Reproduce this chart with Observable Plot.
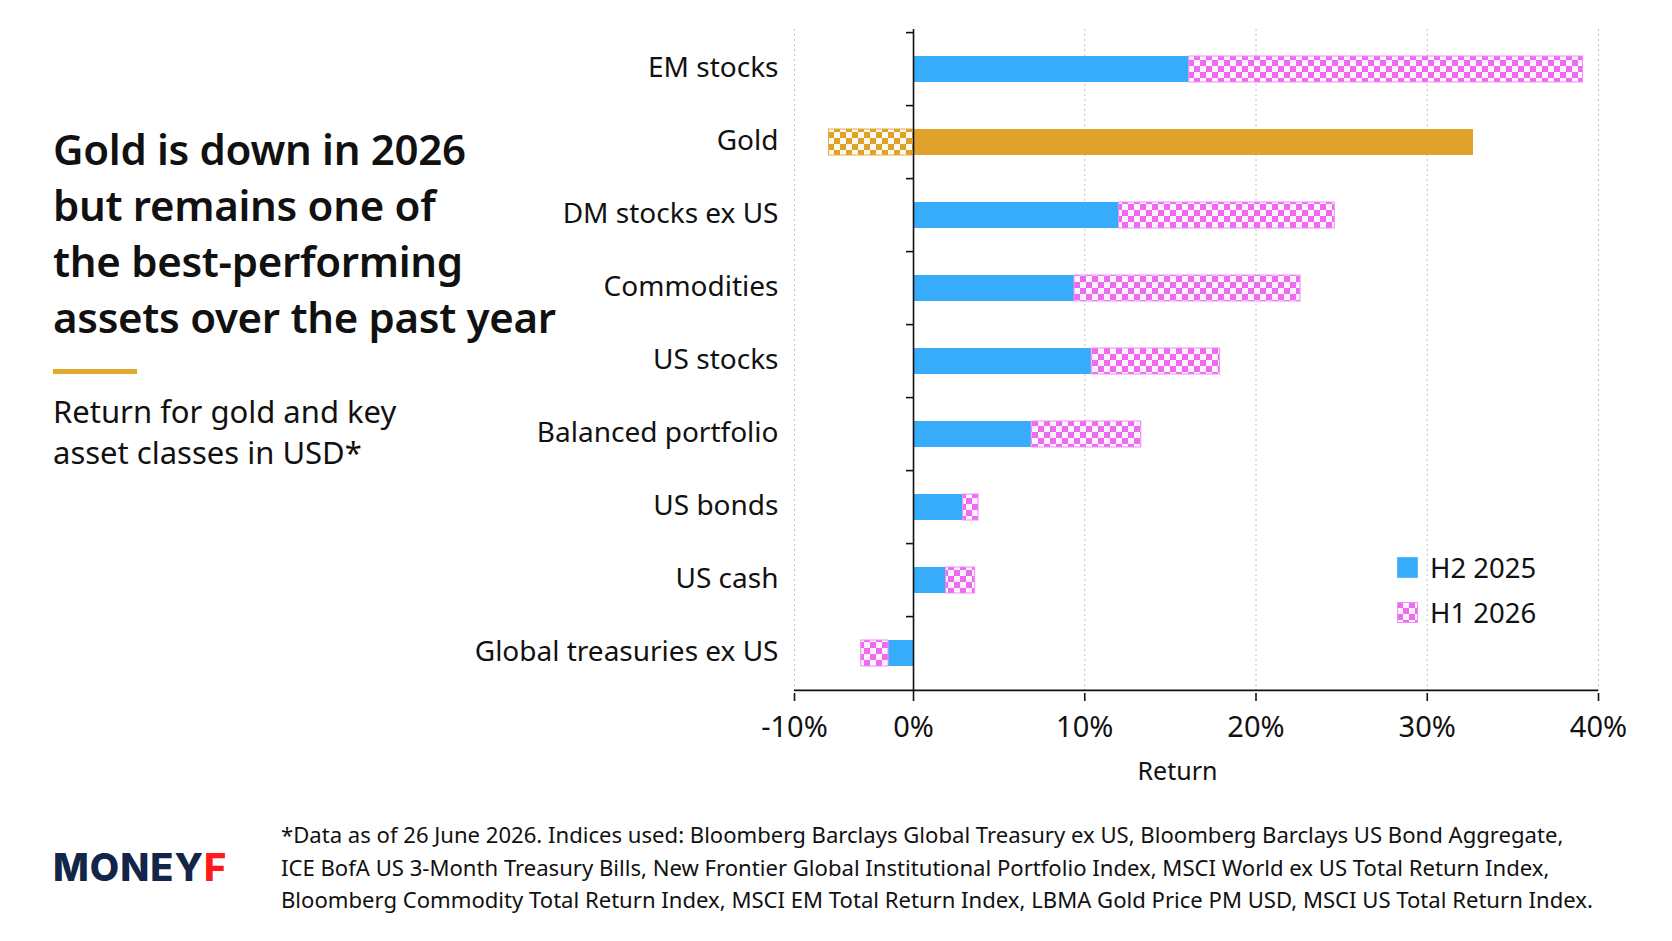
<!DOCTYPE html>
<html>
<head>
<meta charset="utf-8">
<script src="https://cdn.jsdelivr.net/npm/d3@7"></script>
<script src="https://cdn.jsdelivr.net/npm/@observablehq/plot@0.6"></script>
<style>
  html, body { margin: 0; padding: 0; background: #fff; }
  #page { position: relative; width: 1672px; height: 941px; overflow: hidden; background: #fff; font-family: "Noto Sans", "Open Sans", sans-serif; color: #111; }
  #chart { position: absolute; left: 0; top: 0; }
  #title { position: absolute; left: 53px; top: 121px; font-size: 42px; font-weight: 600; line-height: 56px; letter-spacing: -0.3px; color: #111; }
  #rule { position: absolute; left: 53px; top: 369px; width: 84px; height: 5px; background: #e3a92e; }
  #subtitle { position: absolute; left: 53px; top: 391px; font-size: 31px; line-height: 41px; color: #111; }
  #logo { position: absolute; left: 53px; top: 846px; font-family: Inter, "Noto Sans", sans-serif; font-weight: 800; font-size: 38px; line-height: 42px; color: #13264a; letter-spacing: 1px; }
  #logo span { color: #ff1a1a; }
  #foot { position: absolute; left: 281px; top: 818px; font-size: 22.1px; line-height: 32.5px; color: #111; white-space: nowrap; }
  .leg { position: absolute; left: 1397px; height: 30px; display: flex; align-items: center; font-size: 27.5px; color: #111; }
  .leg svg { margin-right: 12px; }
</style>
</head>
<body>
<div id="page">
  <svg width="0" height="0" style="position:absolute">
    <defs>
      <pattern id="checkPink" patternUnits="userSpaceOnUse" width="12" height="12">
        <rect width="12" height="12" fill="#fdf3fe"></rect>
        <rect x="0" y="0" width="6" height="6" fill="#ec6bf0"></rect>
        <rect x="6" y="6" width="6" height="6" fill="#ec6bf0"></rect>
      </pattern>
      <pattern id="checkGold" patternUnits="userSpaceOnUse" width="12" height="12">
        <rect width="12" height="12" fill="#fffaf0"></rect>
        <rect x="0" y="0" width="6" height="6" fill="#e0a22a"></rect>
        <rect x="6" y="6" width="6" height="6" fill="#e0a22a"></rect>
      </pattern>
    </defs>
  </svg>
  <div id="chart"></div>
  <div id="title">Gold is down in 2026<br>but remains one of<br>the best-performing<br>assets over the past year</div>
  <div id="rule"></div>
  <div id="subtitle">Return for gold and key<br>asset classes in USD*</div>
  <div class="leg" style="top:552px"><svg width="21" height="21"><rect x="0.5" y="0.5" width="20" height="20" fill="#36acfb" stroke="#5bbcfc"></rect></svg>H2 2025</div>
  <div class="leg" style="top:597px"><svg width="21" height="21"><rect x="0.5" y="0.5" width="20" height="20" fill="url(#checkPink)" stroke="#f08ef3"></rect></svg>H1 2026</div>
  <div id="logo">MONEY<span>F</span></div>
  <div id="foot">*Data as of 26 June 2026. Indices used: Bloomberg Barclays Global Treasury ex US, Bloomberg Barclays US Bond Aggregate,<br>ICE BofA US 3-Month Treasury Bills, New Frontier Global Institutional Portfolio Index, MSCI World ex US Total Return Index,<br>Bloomberg Commodity Total Return Index, MSCI EM Total Return Index, LBMA Gold Price PM USD, MSCI US Total Return Index.</div>
</div>
<script>
// ---- data ----
const assets = ["EM stocks", "Gold", "DM stocks ex US", "Commodities", "US stocks", "Balanced portfolio", "US bonds", "US cash", "Global treasuries ex US"];
const h2_2025 = [16.1, 32.7, 12.0, 9.4, 10.4, 6.9, 2.9, 1.9, -2.1];
const h1_2026 = [23.0, -7.1, 12.6, 13.2, 7.5, 6.4, 0.9, 1.7, -2.3];
const seriesNames = ["H2 2025", "H1 2026"];
const xTicks = [-10, 0, 10, 20, 30, 40];
const gridTicks = [-10, 10, 20, 30, 40];

const rows = [];
[h2_2025, h1_2026].forEach((vals, s) => {
  assets.forEach((a, i) => {
    rows.push({asset: a, series: seriesNames[s], value: vals[i],
      key: a === "Gold" ? seriesNames[s] + " gold" : seriesNames[s]});
  });
});

// the reference axis draws the negative side compressed
const negScale = 0.695;
const W = 1672, H = 800;
const stackOpts = (extra) => Plot.stackX({x: "value", y: "asset", z: "series", ...extra});

const chart = Plot.plot({
  width: W, height: H,
  marginTop: 29, marginBottom: H - 693, marginLeft: 794, marginRight: W - 1598,
  style: {fontFamily: "'Noto Sans', 'Open Sans', sans-serif", color: "#111", background: "transparent"},
  x: {type: "linear", transform: v => (v < 0 ? v * negScale : v), domain: [-10 * negScale, 40]},
  y: {domain: assets, paddingInner: 0.64, paddingOuter: 0.32},
  color: {type: "ordinal", domain: ["H2 2025", "H1 2026", "H2 2025 gold", "H1 2026 gold"],
          range: ["#36acfb", "url(#checkPink)", "#e0a22a", "url(#checkGold)"]},
  opacity: {domain: [0, 1], range: [0, 1]},
  marks: [
    Plot.gridX(gridTicks, {stroke: "#c2c2c2", strokeOpacity: 1, strokeDasharray: "2,3", strokeWidth: 1}),
    Plot.barX(rows, stackOpts({fill: "key"})),
    Plot.barX(rows, stackOpts({fill: "none", stroke: "#f08ef3", strokeWidth: 1,
      strokeOpacity: d => (d.series === "H1 2026" && d.asset !== "Gold") ? 1 : 0})),
    Plot.barX(rows, stackOpts({fill: "none", stroke: "#e6ae3c", strokeWidth: 1,
      strokeOpacity: d => (d.series === "H1 2026" && d.asset === "Gold") ? 1 : 0})),
    Plot.ruleX([0], {stroke: "#111", strokeWidth: 1.6}),
    Plot.ruleY(assets, {y: d => d, x1: 0, x2: 0, insetLeft: -7, dy: -36.9, stroke: "#111", strokeWidth: 1.6}),
    Plot.ruleY([assets[assets.length - 1]], {y: d => d, x1: xTicks[0], x2: xTicks[xTicks.length - 1], dy: 36.9, stroke: "#111", strokeWidth: 1.6}),
    Plot.axisX(xTicks, {anchor: "bottom", tickSize: 8, tickPadding: 15, tickFormat: d => d + "%", fontSize: 29, label: null, stroke: "#111", strokeWidth: 1.6}),
    Plot.axisY({anchor: "left", tickSize: 0, tickPadding: 16, fontSize: 28, dy: -1.5, label: null}),
    Plot.text(["Return"], {frameAnchor: "bottom", dx: -19, dy: 86, fontSize: 25, fill: "#111"})
  ]
});
document.getElementById("chart").appendChild(chart);
</script>
</body>
</html>
